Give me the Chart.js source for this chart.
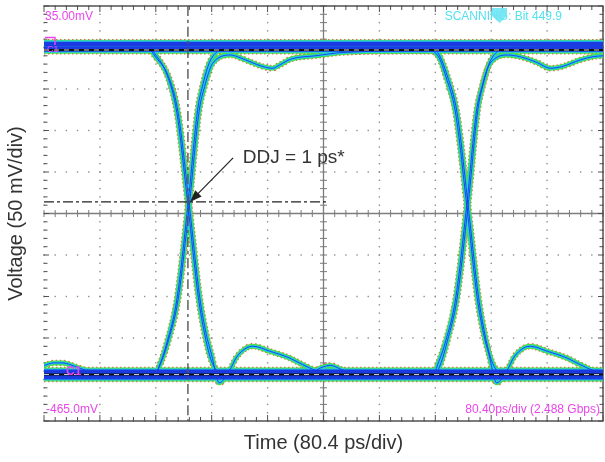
<!DOCTYPE html>
<html>
<head>
<meta charset="utf-8">
<title>Eye diagram</title>
<script src="https://cdn.jsdelivr.net/npm/chart.js@4.4.1/dist/chart.umd.min.js"></script>
<style>
  html, body { margin: 0; padding: 0; background: #fff; }
  #wrap { width: 605px; height: 462px; position: relative; }
</style>
</head>
<body>
<div id="wrap"><canvas id="chart"></canvas></div>
<script>
// Eye diagram: scope graticule, overlaid traces, DDJ marker.
const X_RANGE = [0, 804];        // ps, 10 div x 80.4 ps
const Y_RANGE = [-465, 35];      // mV, 10 div x 50 mV
const X_DIV = 80.4, Y_DIV = 50, N_DIV = 10, N_SUB = 5;
const X_TITLE = 'Time (80.4 ps/div)';
const Y_TITLE = 'Voltage (50 mV/div)';
const LABEL_TOP = '35.00mV';
const LABEL_BOTTOM = '-465.0mV';
const LABEL_TIMEBASE = '80.40ps/div (2.488 Gbps)';
const LABEL_STATUS = 'SCANNING: Bit 449.9';
const LABEL_CHANNEL = 'C1';
const DDJ_TEXT = 'DDJ = 1 ps*';

// flat "1" and "0" rails  [ps, mV]
const highA = [[0, -11], [804, -11]];
const highB = [[0, -17], [804, -17]];
const lowA = [[0, -406], [804, -406]];
const lowB = [[0, -412], [804, -412]];
const coreHigh = [[0, -18], [804, -18]];
const coreLow = [[0, -409], [804, -409]];

// 1 -> 0 (ringing) -> 0 -> 1 (dip)
const fallRise = [[0, -17], [150, -17], [161, -27], [179, -50], [193, -94], [209, -205], [224, -316], [233, -359],
  [241, -385], [252, -419], [267, -404], [277, -388], [291, -377], [301, -375], [325, -381], [353, -389], [372, -397],
  [391, -404], [410, -406], [560, -407], [568, -393], [578, -368], [592, -318], [608, -205], [622, -92], [630, -62],
  [639, -38], [649, -28], [666, -24], [684, -26], [709, -33], [728, -40], [745, -38], [771, -30], [790, -26], [804, -25]];
// 0 -> 1 (dip) -> 1 -> 0 (ringing)
const riseFall = [[0, -398], [14, -395], [27, -395], [47, -400], [76, -407], [160, -407], [169, -393], [179, -368],
  [193, -318], [209, -205], [223, -92], [231, -62], [240, -38], [250, -28], [268, -24], [278, -26], [296, -32],
  [315, -38], [329, -40], [339, -36], [355, -29], [390, -25], [430, -21], [556, -19], [568, -27], [578, -50],
  [592, -94], [608, -205], [623, -316], [632, -359], [640, -385], [651, -419], [666, -404], [676, -388], [690, -377],
  [700, -375], [724, -381], [752, -389], [771, -397], [790, -404], [804, -406]];
// clean edges, no ringing
const fallFlat = [[0, -11], [148, -12], [159, -22], [177, -48], [191, -93], [207, -205], [222, -316], [231, -360],
  [239, -388], [248, -404], [262, -409], [380, -409], [398, -401], [412, -398], [428, -403], [450, -409], [562, -409],
  [571, -395], [580, -369], [594, -318], [610, -205], [624, -90], [632, -58], [641, -33], [652, -20], [668, -15], [804, -14]];
const riseFlat = [[0, -412], [158, -411], [167, -396], [177, -370], [191, -319], [207, -205], [221, -90], [229, -58],
  [238, -33], [249, -20], [265, -15], [558, -15], [569, -25], [580, -49], [594, -93], [610, -205], [625, -316],
  [634, -360], [642, -388], [651, -404], [665, -409], [804, -410]];

// DDJ markers
const ddjLevel = [[0, -201], [407, -201]];
const ddjTime = [[207, 35], [207, -465]];
const ddjArrowFrom = [272, -148];
const ddjArrowTo = [210, -201];
const ddjTextAt = [286, -154];

const MAGENTA = '#ea45ea';
const CYAN = '#52e2f0';
const FONT = '"Liberation Sans", Arial, Helvetica, sans-serif';

const bandTraces = [highA, highB, lowA, lowB];
const edgeTraces = [fallRise, riseFall, fallFlat, riseFlat];
const layers = [
  { color: 'rgba(236,48,40,0.8)', dash: [1.5, 2.5], edge: 6.4, band: 10.5 },
  { color: '#48e040', edge: 5, band: 9 },
  { color: '#22cbee', edge: 2.8, band: 7.2 },
  { color: '#1a3ae2', edge: 0.9, band: 5 }
];

const line = (d, extra) => Object.assign({
  data: d, showLine: true, pointRadius: 0, tension: 0.35, cubicInterpolationMode: 'monotone', fill: false
}, extra);

const datasets = [];
layers.forEach((l, i) => {
  bandTraces.concat(edgeTraces).forEach((tr) => {
    const band = bandTraces.includes(tr);
    datasets.push(line(tr, {
      borderColor: l.color, borderWidth: band ? l.band : l.edge, borderDash: l.dash || [],
      borderCapStyle: l.dash ? 'butt' : 'round', order: 10 - i
    }));
  });
});
datasets.push(line(coreHigh, { borderColor: '#111', borderWidth: 2.2, order: 2 }));
datasets.push(line(coreLow, { borderColor: '#111', borderWidth: 2.2, order: 2 }));
datasets.push(line(coreHigh, { borderColor: '#fff', borderWidth: 0.8, borderDash: [5, 5], order: 1 }));
datasets.push(line(coreLow, { borderColor: '#fff', borderWidth: 0.8, borderDash: [5, 5], order: 1 }));
datasets.push(line(ddjLevel, { borderColor: '#222', borderWidth: 1.4, borderDash: [10, 3, 3, 3], tension: 0, order: 0 }));
datasets.push(line(ddjTime, { borderColor: '#555', borderWidth: 1.4, borderDash: [10, 4, 3, 4], tension: 0, order: 0 }));

function seg(ctx, x1, y1, x2, y2) {
  ctx.beginPath(); ctx.moveTo(x1, y1); ctx.lineTo(x2, y2); ctx.stroke();
}

const scopeGrid = {
  id: 'scopeGrid',
  beforeDatasetsDraw(chart) {
    const { ctx, chartArea: a, scales: { x, y } } = chart;
    const xs = [], ys = [];
    for (let i = 0; i <= N_DIV * N_SUB; i++) {
      xs.push({ p: x.getPixelForValue(X_RANGE[0] + i * X_DIV / N_SUB), major: i % N_SUB === 0 });
      ys.push({ p: y.getPixelForValue(Y_RANGE[0] + i * Y_DIV / N_SUB), major: i % N_SUB === 0 });
    }
    const cx = x.getPixelForValue(X_RANGE[0] + 5 * X_DIV);
    const cy = y.getPixelForValue(Y_RANGE[0] + 5 * Y_DIV);
    ctx.save();
    // dotted graticule
    ctx.fillStyle = '#8e8e8e';
    xs.filter((t) => t.major).forEach((t) => ys.forEach((u) => ctx.fillRect(t.p - 0.7, u.p - 0.7, 1.4, 1.4)));
    ys.filter((u) => u.major).forEach((u) => xs.forEach((t) => ctx.fillRect(t.p - 0.7, u.p - 0.7, 1.4, 1.4)));
    // center cross
    ctx.strokeStyle = '#7d7d7d'; ctx.lineWidth = 1.3;
    seg(ctx, a.left, cy, a.right, cy); seg(ctx, cx, a.top, cx, a.bottom);
    ctx.lineWidth = 1;
    xs.forEach((t) => seg(ctx, t.p, cy - 3.5, t.p, cy + 3.5));
    ys.forEach((u) => seg(ctx, cx - 3.5, u.p, cx + 3.5, u.p));
    // frame + ticks
    ctx.strokeStyle = '#505050'; ctx.lineWidth = 1.5;
    seg(ctx, a.left, a.top, a.right, a.top);
    seg(ctx, a.left, a.bottom, a.right, a.bottom);
    seg(ctx, a.right, a.top, a.right, a.bottom);
    ctx.lineWidth = 1;
    xs.forEach((t) => {
      const l = t.major ? 6 : 4;
      seg(ctx, t.p, a.top, t.p, a.top + l); seg(ctx, t.p, a.bottom, t.p, a.bottom - l);
    });
    ys.forEach((u) => {
      const l = u.major ? 5 : 3.5;
      seg(ctx, a.left, u.p, a.left + l, u.p); seg(ctx, a.right, u.p, a.right - l, u.p);
    });
    ctx.restore();
  },
  afterDatasetsDraw(chart) {
    const { ctx, chartArea: a, scales: { x, y } } = chart;
    ctx.save();
    // scope readouts
    ctx.font = '12px ' + FONT;
    ctx.textBaseline = 'middle';
    ctx.fillStyle = MAGENTA;
    ctx.textAlign = 'left';
    ctx.fillText(LABEL_TOP, a.left + 1, a.top + 11);
    ctx.fillText(LABEL_BOTTOM, a.left + 2, a.bottom - 11);
    ctx.textAlign = 'right';
    ctx.fillText(LABEL_TIMEBASE, a.right - 3, a.bottom - 11);
    ctx.fillStyle = CYAN;
    ctx.fillText(LABEL_STATUS, a.right - 41, a.top + 11);
    // cyan trigger marker
    ctx.beginPath();
    ctx.moveTo(a.left + 448, a.top + 2); ctx.lineTo(a.left + 463, a.top + 2); ctx.lineTo(a.left + 463, a.top + 10);
    ctx.lineTo(a.left + 455.5, a.top + 17); ctx.lineTo(a.left + 448, a.top + 10); ctx.closePath();
    ctx.fillStyle = 'rgba(110,228,244,0.9)'; ctx.fill();
    // channel markers
    ctx.strokeStyle = MAGENTA; ctx.lineWidth = 1.5;
    ctx.beginPath(); ctx.moveTo(a.left + 1, a.top + 31.5); ctx.lineTo(a.left + 11, a.top + 31.5); ctx.lineTo(a.left + 11, a.top + 39); ctx.stroke();
    ctx.fillStyle = MAGENTA; ctx.textAlign = 'left';
    ctx.font = '9px ' + FONT;
    ctx.fillText(LABEL_CHANNEL, a.left + 3, y.getPixelForValue(-18));
    ctx.font = 'bold 12px ' + FONT;
    ctx.fillText(LABEL_CHANNEL, a.left + 22, y.getPixelForValue(-406));
    // DDJ annotation
    const fx = x.getPixelForValue(ddjArrowFrom[0]), fy = y.getPixelForValue(ddjArrowFrom[1]);
    const tx = x.getPixelForValue(ddjArrowTo[0]), ty = y.getPixelForValue(ddjArrowTo[1]);
    const ang = Math.atan2(ty - fy, tx - fx);
    ctx.strokeStyle = '#222'; ctx.fillStyle = '#222'; ctx.lineWidth = 1.2;
    seg(ctx, fx, fy, tx - 9 * Math.cos(ang), ty - 9 * Math.sin(ang));
    ctx.beginPath();
    ctx.moveTo(tx, ty);
    ctx.lineTo(tx - 12 * Math.cos(ang) + 4.5 * Math.sin(ang), ty - 12 * Math.sin(ang) - 4.5 * Math.cos(ang));
    ctx.lineTo(tx - 12 * Math.cos(ang) - 4.5 * Math.sin(ang), ty - 12 * Math.sin(ang) + 4.5 * Math.cos(ang));
    ctx.closePath(); ctx.fill();
    ctx.font = '19px ' + FONT;
    ctx.fillStyle = '#333';
    ctx.textBaseline = 'alphabetic';
    ctx.fillText(DDJ_TEXT, x.getPixelForValue(ddjTextAt[0]), y.getPixelForValue(ddjTextAt[1]));
    ctx.restore();
  }
};

const TITLE_FONT = { family: FONT, size: 20, lineHeight: 1.2 };

new Chart(document.getElementById('chart'), {
  type: 'scatter',
  data: { datasets },
  options: {
    responsive: true, maintainAspectRatio: false, animation: false,
    layout: { padding: { top: 6, right: 2, left: 0, bottom: 0 } },
    plugins: { legend: { display: false }, tooltip: { enabled: false } },
    events: [],
    scales: {
      x: {
        type: 'linear', min: X_RANGE[0], max: X_RANGE[1],
        ticks: { display: false }, grid: { display: false, drawTicks: false, tickLength: 0 }, border: { display: false },
        title: { display: true, text: X_TITLE, color: '#333', font: TITLE_FONT, padding: { top: 10, bottom: 7 } }
      },
      y: {
        type: 'linear', min: Y_RANGE[0], max: Y_RANGE[1],
        ticks: { display: false }, grid: { display: false, drawTicks: false, tickLength: 0 }, border: { display: false },
        title: { display: true, text: Y_TITLE, color: '#333', font: TITLE_FONT, padding: { top: 4.5, bottom: 15.5 } }
      }
    }
  },
  plugins: [scopeGrid]
});
</script>
</body>
</html>
